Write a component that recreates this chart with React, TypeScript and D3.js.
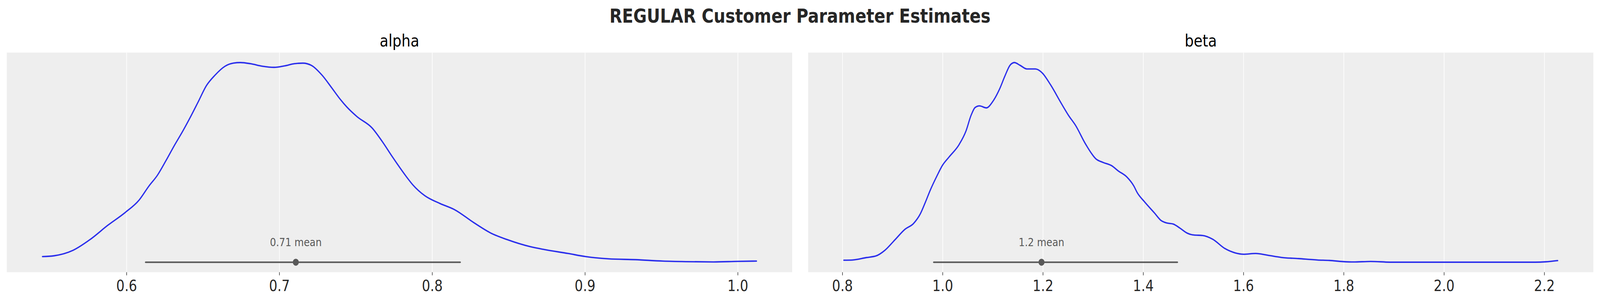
import * as d3 from "d3";

// posterior KDE
const alphaX = [0.5449, 0.5526, 0.5648, 0.5759, 0.5876, 0.5991, 0.608, 0.6146, 0.6201, 0.6257, 0.6312, 0.6367, 0.6416, 0.6467, 0.6522, 0.6578, 0.6644, 0.6699, 0.6744, 0.681, 0.6888, 0.6965, 0.7031, 0.7098, 0.7153, 0.7209, 0.7279, 0.7341, 0.7397, 0.7441, 0.7507, 0.7607, 0.7673, 0.774, 0.7828, 0.7873, 0.795, 0.805, 0.8149, 0.8271, 0.8382, 0.8492, 0.8643, 0.8734, 0.8889, 0.9004, 0.9154, 0.9331, 0.9509, 0.9664, 0.9841, 1.0, 1.0122];
const alphaDensity = [0.2, 0.23, 0.42, 0.8, 1.31, 1.77, 2.2, 2.71, 3.09, 3.61, 4.15, 4.66, 5.15, 5.69, 6.28, 6.65, 6.97, 7.08, 7.1, 7.06, 6.97, 6.93, 6.98, 7.06, 7.08, 7.0, 6.65, 6.21, 5.8, 5.52, 5.18, 4.77, 4.29, 3.74, 3.06, 2.75, 2.37, 2.09, 1.86, 1.41, 1.04, 0.8, 0.55, 0.45, 0.31, 0.2, 0.12, 0.09, 0.04, 0.02, 0.01, 0.03, 0.04];
const alphaMean = 0.7107;
const alphaHdi = [0.6124, 0.8183];
const alphaTicks = [0.6, 0.7, 0.8, 0.9, 1.0];

const betaX = [0.8027, 0.8202, 0.8472, 0.8675, 0.8843, 0.9046, 0.9248, 0.9417, 0.9552, 0.9653, 0.9755, 0.989, 0.9991, 1.0126, 1.0328, 1.0463, 1.0564, 1.0646, 1.0733, 1.0868, 1.1003, 1.1138, 1.1239, 1.1341, 1.1428, 1.1543, 1.1678, 1.1847, 1.1982, 1.215, 1.2373, 1.251, 1.2647, 1.2853, 1.3058, 1.3195, 1.3366, 1.3503, 1.3675, 1.3811, 1.388, 1.4016, 1.4222, 1.4359, 1.4461, 1.4598, 1.4735, 1.4872, 1.5009, 1.518, 1.5385, 1.5625, 1.583, 1.6001, 1.6241, 1.6481, 1.6755, 1.7097, 1.7473, 1.7713, 1.7987, 1.8192, 1.8534, 1.8945, 1.9903, 2.093, 2.182, 2.2026, 2.2265];
const betaDensity = [0.026, 0.029, 0.06, 0.083, 0.153, 0.291, 0.429, 0.504, 0.629, 0.78, 0.944, 1.131, 1.258, 1.37, 1.534, 1.708, 1.911, 2.015, 2.036, 2.01, 2.098, 2.262, 2.423, 2.564, 2.6, 2.564, 2.517, 2.517, 2.467, 2.311, 2.059, 1.911, 1.784, 1.534, 1.344, 1.3, 1.258, 1.188, 1.108, 0.993, 0.905, 0.793, 0.642, 0.541, 0.512, 0.497, 0.442, 0.38, 0.354, 0.348, 0.299, 0.179, 0.122, 0.104, 0.114, 0.091, 0.062, 0.047, 0.029, 0.023, 0.008, 0.003, 0.01, 0, 0, 0, 0, 0.005, 0.021];
const betaMean = 1.197;
const betaHdi = [0.982, 1.468];
const betaTicks = [0.8, 1.0, 1.2, 1.4, 1.6, 1.8, 2.0, 2.2];

const W = 4823;
const H = 773;
const top = 134.6;
const bottom = 696.7;
const font = "DejaVu Sans";

const panels = [
  { title: "alpha", xs: alphaX, ys: alphaDensity, mean: alphaMean, meanLabel: "0.71 mean", hdi: alphaHdi, ticks: alphaTicks, fmt: ".1f", left: 20.4, right: 2388 },
  { title: "beta", xs: betaX, ys: betaDensity, mean: betaMean, meanLabel: "1.2 mean", hdi: betaHdi, ticks: betaTicks, fmt: ".1f", left: 2436, right: 4803 },
];

const Panel = ({ p }) => {
  const [x0, x1] = d3.extent(p.xs);
  const pad = (x1 - x0) * 0.05;
  const xScale = d3.scaleLinear().domain([x0 - pad, x1 + pad]).range([p.left, p.right]);
  const yMax = d3.max(p.ys);
  const yScale = d3.scaleLinear().domain([-0.05 * yMax, 1.05 * yMax]).range([bottom, top]);
  const pts = p.xs.map((x, i) => [x, p.ys[i]]);
  const line = d3.line().x(d => xScale(d[0])).y(d => yScale(d[1])).curve(d3.curveMonotoneX);
  const fmt = d3.format(p.fmt);
  const y0 = yScale(0);

  return (
    <g>
      <rect x={p.left} y={top} width={p.right - p.left} height={bottom - top} fill="#eeeeee" />
      {p.ticks.map(t => (
        <g key={t}>
          <line x1={xScale(t)} x2={xScale(t)} y1={top} y2={bottom} stroke="#ffffff" strokeWidth={1.8} />
          <line x1={xScale(t)} x2={xScale(t)} y1={bottom} y2={bottom + 8} stroke="#262626" strokeWidth={1.6} />
          <text x={xScale(t)} y={745.5} textAnchor="middle" fontSize={39.5} fill="#262626">{fmt(t)}</text>
        </g>
      ))}
      <path d={line(pts)} fill="none" stroke="#2a2eec" strokeWidth={3.6} strokeLinejoin="round" strokeLinecap="round" />
      <line x1={xScale(p.hdi[0])} x2={xScale(p.hdi[1])} y1={y0} y2={y0} stroke="#595959" strokeWidth={4} strokeLinecap="round" />
      <circle cx={xScale(p.mean)} cy={y0} r={9} fill="#595959" />
      <text x={xScale(p.mean)} y={y0 - 41.6} textAnchor="middle" fontSize={29} fill="#595959">{p.meanLabel}</text>
      <text x={(p.left + p.right) / 2} y={119} textAnchor="middle" fontSize={43} fill="#000000">{p.title}</text>
    </g>
  );
};

export default function App() {
  return (
    <>
      <style>{`html,body{margin:0;padding:0;overflow:hidden}`}</style>
      <svg
        viewBox={`0 0 ${W} ${H}`}
        preserveAspectRatio="none"
        style={{ display: "block", width: "100vw", height: "100vh", background: "#ffffff" }}
        fontFamily={font}
      >
        <text x={W / 2} y={58} textAnchor="middle" fontSize={49.5} fontWeight="bold" fill="#262626">
          REGULAR Customer Parameter Estimates
        </text>
        {panels.map(p => <Panel key={p.title} p={p} />)}
      </svg>
    </>
  );
}
